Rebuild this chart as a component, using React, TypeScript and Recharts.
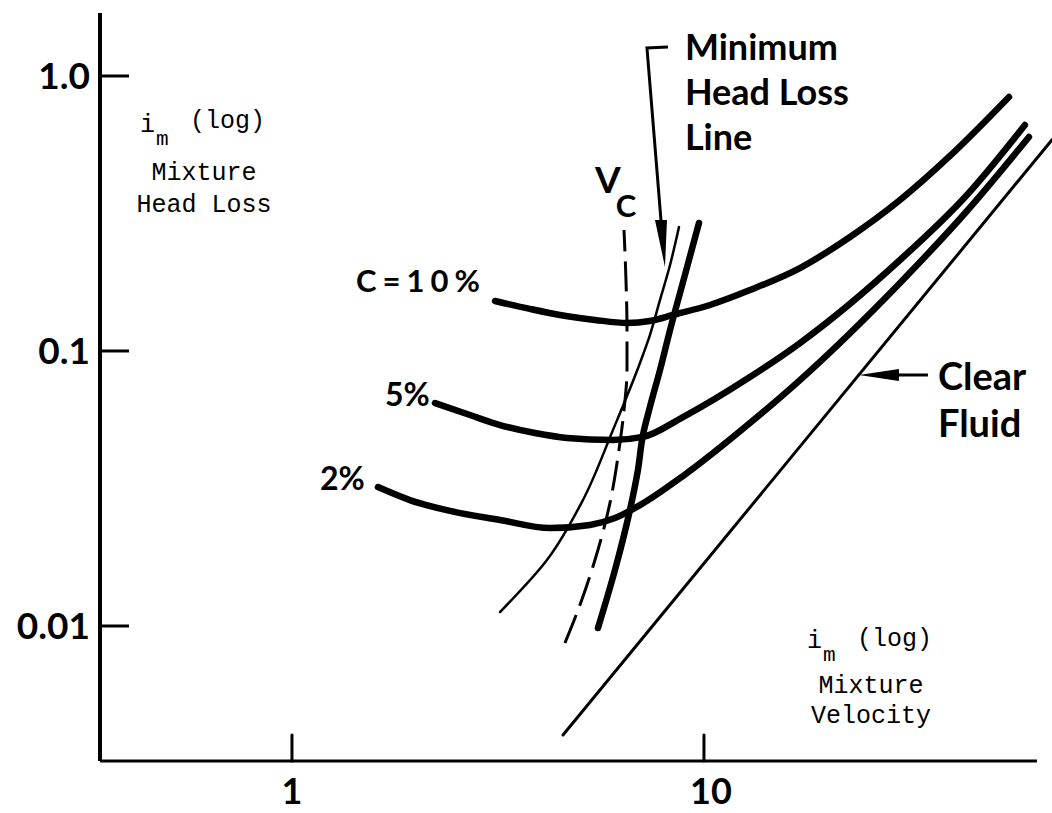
import React from 'react';
import { LineChart, Line, XAxis, YAxis, ReferenceDot, ReferenceLine } from 'recharts';

// ---- axes ----
const xTicks = [1, 10];
const xTickLabels = ['1', '10'];
const yTicks = [0.01, 0.1, 1];
const yTickLabels = ['0.01', '0.1', '1.0'];
const X_MIN = 0.342;
const X_MAX = 69.95;
const X_AXIS_END = 64.3;
const Y_MIN = 0.003229;
const Y_MAX = 1.6945;

// ---- series (mixture velocity, mixture head loss) ----
const c10Velocity = [3.11, 3.78, 4.47, 5.44, 6.5, 7.39, 8.41, 10.34, 12.93, 17.1, 22.62, 29.91, 39.54, 55.0];
const c10HeadLoss = [0.152, 0.1422, 0.1352, 0.1297, 0.1264, 0.1285, 0.1352, 0.147, 0.1666, 0.2003, 0.2598, 0.354, 0.5118, 0.8386];

const c5Velocity = [2.224, 2.704, 3.198, 3.889, 4.65, 6.014, 7.111, 8.893, 12.93, 17.1, 29.91, 43.48, 60.13];
const c5HeadLoss = [0.0647, 0.0585, 0.0538, 0.0503, 0.0483, 0.0475, 0.0487, 0.0575, 0.0804, 0.1069, 0.2142, 0.3693, 0.6636];

const c2Velocity = [1.617, 1.933, 2.418, 3.198, 4.229, 5.288, 6.081, 6.993, 8.893, 12.93, 17.1, 29.91, 43.48, 61.49];
const c2HeadLoss = [0.032, 0.0287, 0.0262, 0.0243, 0.0227, 0.0233, 0.0247, 0.0275, 0.0351, 0.0547, 0.0784, 0.1768, 0.3229, 0.6];

const clearVelocity = [4.548, 69.9];
const clearHeadLoss = [0.004015, 0.5853];

const thinVelocity = [3.198, 4.158, 5.085, 6.014, 6.993, 7.393, 7.822, 8.273, 8.697];
const thinHeadLoss = [0.01124, 0.01738, 0.02872, 0.05161, 0.09045, 0.1143, 0.1533, 0.2055, 0.2824];

const minLossVelocity = [5.53, 6.081, 6.612, 6.914, 7.111, 7.393, 7.822, 8.273, 8.991, 9.725];
const minLossHeadLoss = [0.00983, 0.01598, 0.02641, 0.03693, 0.0495, 0.06256, 0.08527, 0.1192, 0.1889, 0.2921];

const vcVelocity = [4.599, 5.0, 5.438, 5.914, 6.218, 6.396, 6.504, 6.504, 6.467, 6.396];
const vcHeadLoss = [0.008676, 0.01192, 0.01738, 0.02802, 0.04365, 0.06101, 0.08527, 0.1192, 0.1812, 0.2754];

// ---- annotation anchors (data coordinates) ----
const headLossLabelAt = { x: 0.6116, y: 0.4184 };
const velocityLabelAt = { x: 25.43, y: 0.005705 };
const minLabelAt = { x: 8.991, y: 1.1434 };
const clearLabelAt = { x: 36.98, y: 0.07214 };
const c10LabelAt = { x: 1.43, y: 0.1639 };
const c5LabelAt = { x: 1.681, y: 0.0631 };
const c2LabelAt = { x: 1.169, y: 0.03122 };
const vcLabelAt = { x: 5.438, y: 0.3754 };
const minArrowTip = { x: 8.042, y: 0.202 };
const clearArrowTip = { x: 23.78, y: 0.08177 };

const zip = (v: number[], h: number[]) => v.map((x, i) => ({ x, y: h[i] }));

const LETTER = "Lato, 'Liberation Sans', sans-serif";
const TYPE = "'Liberation Mono', 'Courier New', monospace";

function YTick(props: any) {
  const { x, y, index } = props;
  return (
    <g>
      <line x1={x} y1={y} x2={x + 29} y2={y} stroke="#000" strokeWidth={3} />
      <text x={x - 10} y={y + 13} textAnchor="end" fontFamily={LETTER} fontWeight={700} fontSize={37} fill="#000">
        {yTickLabels[index]}
      </text>
    </g>
  );
}

function XTick(props: any) {
  const { x, y, index } = props;
  return (
    <g>
      <line x1={x} y1={y} x2={x} y2={y - 26} stroke="#000" strokeWidth={3} strokeLinecap="round" />
      <text x={x + (index === 1 ? 7 : 0)} y={y + 43} textAnchor="middle" fontFamily={LETTER} fontWeight={700} fontSize={36} fill="#000">
        {xTickLabels[index]}
      </text>
    </g>
  );
}

const typeBlock = (lastLine: string, o: { i: number; m: number; log: number; gap: number }) => (p: any) => {
  const { cx, cy } = p;
  return (
    <g fontFamily={TYPE} fontSize={25} fill="#000">
      <text x={cx - 64} y={cy + o.i}>i</text>
      <text x={cx - 48} y={cy + o.m} fontSize={21}>m</text>
      <text x={cx - 14} y={cy + o.log}>(log)</text>
      <text x={cx} y={cy} textAnchor="middle">Mixture</text>
      <text x={cx} y={cy + o.gap} textAnchor="middle">{lastLine}</text>
    </g>
  );
};

const letterLines = (lines: string[], size: number, step: number, spacing = 0) => (p: any) => {
  const { cx, cy } = p;
  return (
    <g fontFamily={LETTER} fontWeight={700} fontSize={size} fill="#000">
      {lines.map((t, i) => (
        <text key={i} x={cx} y={cy + i * step} letterSpacing={spacing}>{t}</text>
      ))}
    </g>
  );
};

const vcShape = (p: any) => {
  const { cx, cy } = p;
  return (
    <text x={cx} y={cy} fontFamily={LETTER} fontWeight={700} fontSize={37} fill="#000">
      V<tspan dx={-5} dy={24} fontSize={31}>C</tspan>
    </text>
  );
};

const minArrowShape = (p: any) => {
  const { cx, cy } = p;
  return (
    <g>
      <polyline
        points={`${cx + 3},${cy - 220} ${cx - 18},${cy - 219} ${cx - 4},${cy - 47}`}
        fill="none"
        stroke="#000"
        strokeWidth={3}
      />
      <polygon points={`${cx - 10},${cy - 47} ${cx + 2},${cy - 47} ${cx},${cy}`} fill="#000" />
    </g>
  );
};

const clearArrowShape = (p: any) => {
  const { cx, cy } = p;
  return (
    <g>
      <line x1={cx + 30} y1={cy} x2={cx + 69} y2={cy} stroke="#000" strokeWidth={3} />
      <polygon points={`${cx},${cy} ${cx + 40},${cy - 6} ${cx + 40},${cy + 6}`} fill="#000" />
    </g>
  );
};

export default function App() {
  const common = {
    dataKey: 'y',
    stroke: '#000',
    dot: false,
    activeDot: false,
    isAnimationActive: false,
    strokeLinecap: 'round' as const,
  };
  return (
    <div style={{ position: 'absolute', left: 0, top: 0, width: 1052, height: 813, background: '#fff' }}>
      <LineChart width={1052} height={813} margin={{ top: 13, right: 0, bottom: 0, left: 0 }}>
        <XAxis
          type="number"
          dataKey="x"
          scale="log"
          domain={[X_MIN, X_MAX]}
          allowDataOverflow
          ticks={xTicks}
          interval={0}
          tick={<XTick />}
          tickLine={false}
          axisLine={false}
          tickSize={0}
          tickMargin={0}
          height={52}
        />
        <YAxis
          type="number"
          scale="log"
          domain={[Y_MIN, Y_MAX]}
          allowDataOverflow
          ticks={yTicks}
          interval={0}
          tick={<YTick />}
          tickLine={false}
          axisLine={{ stroke: '#000', strokeWidth: 4 }}
          tickSize={0}
          tickMargin={0}
          width={100}
        />
        <ReferenceLine
          segment={[{ x: X_MIN, y: Y_MIN }, { x: X_AXIS_END, y: Y_MIN }]}
          stroke="#000"
          strokeWidth={3}
          ifOverflow="visible"
        />
        <Line {...common} data={zip(clearVelocity, clearHeadLoss)} type="linear" strokeWidth={3} />
        <Line {...common} data={zip(thinVelocity, thinHeadLoss)} type="monotoneY" strokeWidth={2.5} />
        <Line {...common} data={zip(vcVelocity, vcHeadLoss)} type="monotoneY" strokeWidth={3} strokeDasharray="30 10" strokeLinecap="butt" />
        <Line {...common} data={zip(minLossVelocity, minLossHeadLoss)} type="monotoneY" strokeWidth={6.5} />
        <Line {...common} data={zip(c10Velocity, c10HeadLoss)} type="monotone" strokeWidth={6.5} />
        <Line {...common} data={zip(c5Velocity, c5HeadLoss)} type="monotone" strokeWidth={6.5} />
        <Line {...common} data={zip(c2Velocity, c2HeadLoss)} type="monotone" strokeWidth={6.5} />

        <ReferenceDot x={headLossLabelAt.x} y={headLossLabelAt.y} r={0} ifOverflow="visible"
          shape={typeBlock('Head Loss', { i: -48, m: -35, log: -52, gap: 32 })} />
        <ReferenceDot x={velocityLabelAt.x} y={velocityLabelAt.y} r={0} ifOverflow="visible"
          shape={typeBlock('Velocity', { i: -45, m: -32, log: -47, gap: 30 })} />
        <ReferenceDot x={minLabelAt.x} y={minLabelAt.y} r={0} ifOverflow="visible"
          shape={letterLines(['Minimum', 'Head Loss', 'Line'], 36, 45)} />
        <ReferenceDot x={clearLabelAt.x} y={clearLabelAt.y} r={0} ifOverflow="visible"
          shape={letterLines(['Clear', 'Fluid'], 38, 47)} />
        <ReferenceDot x={c10LabelAt.x} y={c10LabelAt.y} r={0} ifOverflow="visible"
          shape={letterLines(['C=10%'], 31, 0, 6)} />
        <ReferenceDot x={c5LabelAt.x} y={c5LabelAt.y} r={0} ifOverflow="visible"
          shape={letterLines(['5%'], 32, 0)} />
        <ReferenceDot x={c2LabelAt.x} y={c2LabelAt.y} r={0} ifOverflow="visible"
          shape={letterLines(['2%'], 32, 0)} />
        <ReferenceDot x={vcLabelAt.x} y={vcLabelAt.y} r={0} ifOverflow="visible" shape={vcShape} />
        <ReferenceDot x={minArrowTip.x} y={minArrowTip.y} r={0} ifOverflow="visible" shape={minArrowShape} />
        <ReferenceDot x={clearArrowTip.x} y={clearArrowTip.y} r={0} ifOverflow="visible" shape={clearArrowShape} />
      </LineChart>
    </div>
  );
}
